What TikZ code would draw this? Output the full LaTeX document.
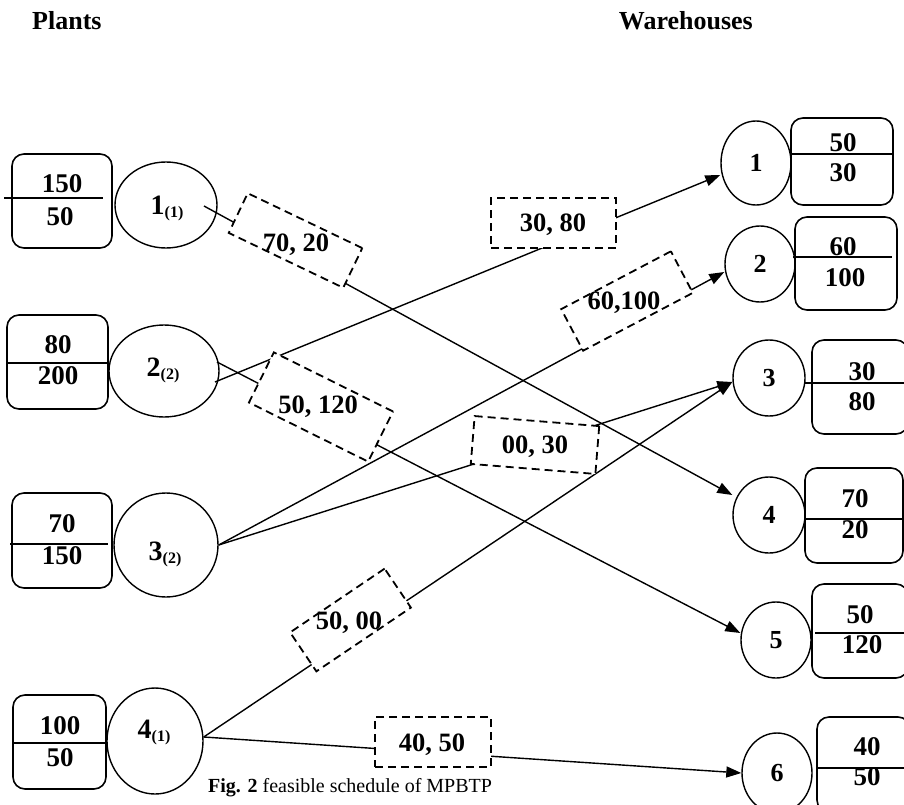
\documentclass[tikz,border=0pt]{standalone}
\usepackage{fontspec}
\setmainfont{Liberation Serif}
\usetikzlibrary{arrows.meta,shapes.geometric}
\tikzset{
  conn/.style={line width=1.4pt},
  arr/.style={conn,-{Triangle[length=15pt,width=11pt]}},
  oval/.style={draw,ellipse,line width=1.4pt,inner sep=0pt},
  whoval/.style={oval,font=\fontsize{26}{26}\selectfont\bfseries},
  capbox/.style={draw,rectangle,rounded corners=12pt,line width=1.6pt,inner sep=0pt},
  divline/.style={line width=1.6pt},
  num/.style={font=\fontsize{27}{27}\selectfont\bfseries,inner sep=0pt},
  lab/.style={font=\fontsize{28}{28}\selectfont\bfseries,inner sep=0pt,anchor=base},
  flowbox/.style={draw,rectangle,dash pattern=on 8pt off 5pt,line width=1.8pt,fill=white,inner sep=0pt},
  flowtxt/.style={font=\fontsize{26.5}{26.5}\selectfont\bfseries,inner sep=0pt},
  head/.style={font=\fontsize{26}{26}\selectfont\bfseries,inner sep=0pt},
}
\newcommand{\sublab}[2]{#1\raisebox{-3pt}{\fontsize{16}{16}\selectfont (#2)}}
\begin{document}
\begin{tikzpicture}[x=1pt,y=-1pt]
\useasboundingbox (0,0) rectangle (904,805);

% headers
\node[head,anchor=base west] (hp) at (32,30) {Plants};
\node[head,anchor=base east] (hw) at (753,30) {Warehouses};

% plants: capacity boxes
\node[capbox,minimum width=100pt,minimum height=94pt] (pb1) at (62,201) {};
\node[capbox,minimum width=101pt,minimum height=94pt] (pb2) at (57.5,362) {};
\node[capbox,minimum width=100pt,minimum height=95pt] (pb3) at (62,540.5) {};
\node[capbox,minimum width=93pt,minimum height=94pt] (pb4) at (59.5,742) {};
\draw[divline] (4,198) -- (103,198);
\draw[divline] (7,363) -- (108,363);
\draw[divline] (10,544) -- (108,544);
\draw[divline] (13,743) -- (106,743);
\node[num] (pb1a) at (62,184) {150};
\node[num] (pb1b) at (60,217) {50};
\node[num] (pb2a) at (58,345) {80};
\node[num] (pb2b) at (58,376) {200};
\node[num] (pb3a) at (62,524) {70};
\node[num] (pb3b) at (62,556) {150};
\node[num] (pb4a) at (60,726) {100};
\node[num] (pb4b) at (60,758) {50};

% plants: ovals
\node[oval,minimum width=102pt,minimum height=86pt] (p1) at (166,205) {};
\node[oval,minimum width=110pt,minimum height=92pt] (p2) at (164,371) {};
\node[oval,minimum width=104pt,minimum height=104pt] (p3) at (166,545) {};
\node[oval,minimum width=96pt,minimum height=106pt] (p4) at (155,741) {};
\node[lab] (p1l) at (167,214) {\sublab{1}{1}};
\node[lab] (p2l) at (163,376) {\sublab{2}{2}};
\node[lab] (p3l) at (165,560) {\sublab{3}{2}};
\node[lab] (p4l) at (154,738) {\sublab{4}{1}};

% warehouses: ovals
\node[whoval,minimum width=70pt,minimum height=84pt] (w1) at (756,163) {1};
\node[whoval,minimum width=70pt,minimum height=76pt] (w2) at (760,264) {2};
\node[whoval,minimum width=72pt,minimum height=76pt] (w3) at (769,378) {3};
\node[whoval,minimum width=72pt,minimum height=76pt] (w4) at (769,515) {4};
\node[whoval,minimum width=70pt,minimum height=76pt] (w5) at (776,640) {5};
\node[whoval,minimum width=70pt,minimum height=80pt] (w6) at (777,773) {6};

% warehouses: demand boxes
\node[capbox,minimum width=102pt,minimum height=87pt] (wb1) at (842,161.5) {};
\node[capbox,minimum width=102pt,minimum height=93pt] (wb2) at (846,263.5) {};
\node[capbox,minimum width=96pt,minimum height=94pt] (wb3) at (860,387) {};
\node[capbox,minimum width=98pt,minimum height=95pt] (wb4) at (854,515.5) {};
\node[capbox,minimum width=96pt,minimum height=94pt] (wb5) at (860,631) {};
\node[capbox,minimum width=93pt,minimum height=95pt] (wb6) at (863.5,764.5) {};
\draw[divline] (791,154) -- (892,154);
\draw[divline] (793,257) -- (892,257);
\draw[divline] (805,383) -- (904,383);
\draw[divline] (805,519) -- (903,519);
\draw[divline] (815,633) -- (904,633);
\draw[divline] (817,768) -- (904,768);
\node[num] (wb1a) at (843,143) {50};
\node[num] (wb1b) at (843,173) {30};
\node[num] (wb2a) at (843,247) {60};
\node[num] (wb2b) at (845,278) {100};
\node[num] (wb3a) at (862,372) {30};
\node[num] (wb3b) at (862,402) {80};
\node[num] (wb4a) at (855,499) {70};
\node[num] (wb4b) at (855,530) {20};
\node[num] (wb5a) at (860,615) {50};
\node[num] (wb5b) at (862,645) {120};
\node[num] (wb6a) at (867,747) {40};
\node[num] (wb6b) at (867,777) {50};

% connectors
\draw[arr] ([xshift=38pt,yshift=-1pt]p1.center) -- ([yshift=20pt]w4.west);
\draw[arr] ([xshift=51pt,yshift=-11pt]p2.center) -- ([yshift=-12pt]w1.west);
\draw[arr] ([xshift=53pt,yshift=9pt]p2.center) -- ([yshift=7pt]w5.west);
\draw[arr] (p3.east) -- ([yshift=-8pt]w2.west);
\draw[arr] (p3.east) -- ([yshift=-4pt]w3.west);
\draw[arr] ([yshift=4pt]p4.east) -- ([yshift=-4pt]w3.west);
\draw[arr] ([yshift=4pt]p4.east) -- (w6.west);

% flow boxes
\node[flowbox,rotate=-25.6,minimum width=127pt,minimum height=44pt] (b14) at (295.5,240.5) {};
\node[flowbox,rotate=-26.4,minimum width=133pt,minimum height=56pt] (b25) at (321,407) {};
\node[flowbox,rotate=27.8,minimum width=124pt,minimum height=47pt] (b32) at (627,301) {};
\node[flowbox,rotate=-4.6,minimum width=125pt,minimum height=48pt] (b33) at (535,445) {};
\node[flowbox,rotate=34,minimum width=114pt,minimum height=47pt] (b43) at (350.5,620) {};
\node[flowbox,minimum width=125pt,minimum height=50pt] (b21) at (553.5,223) {};
\node[flowbox,minimum width=116pt,minimum height=50pt] (b46) at (433,742) {};
\node[flowtxt] (t14) at (296,245) {70, 20};
\node[flowtxt] (t25) at (318,407) {50, 120};
\node[flowtxt] (t32) at (624,303) {60,100};
\node[flowtxt] (t33) at (535,447) {00, 30};
\node[flowtxt] (t43) at (349,623) {50, 00};
\node[flowtxt] (t21) at (553,225) {30, 80};
\node[flowtxt] (t46) at (432,745) {40, 50};

% caption
\node[anchor=base west,inner sep=0pt,font=\fontsize{20}{20}\selectfont] (cap) at (208,792) {\textbf{Fig. 2} feasible schedule of MPBTP};
\end{tikzpicture}
\end{document}
